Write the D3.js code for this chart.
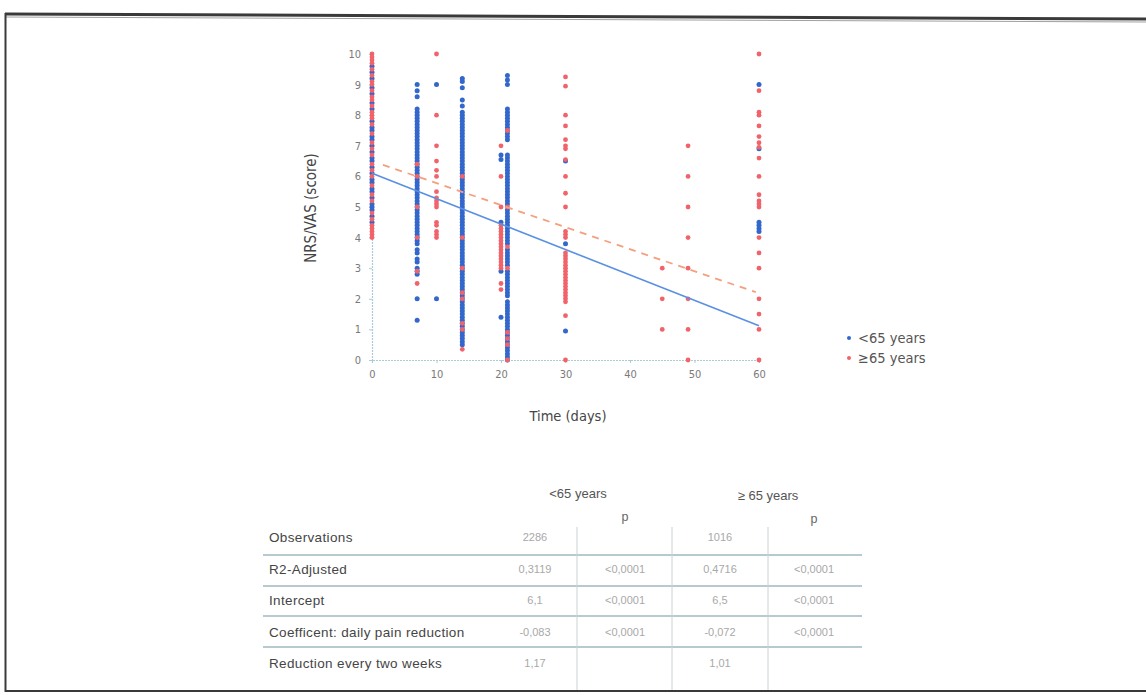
<!DOCTYPE html>
<html>
<head>
<meta charset="utf-8">
<script src="https://cdn.jsdelivr.net/npm/d3@7/dist/d3.min.js"></script>
<style>
  html, body { margin: 0; padding: 0; background: #fff; }
  svg { display: block; }
</style>
</head>
<body>
<svg id="chart" width="1146" height="695"></svg>
<script>
// Pain score (NRS/VAS) per visit day, split by age group: [day, score]
const under65Points = [
  [0,4.5],[0,4.7],[0,4.9],[0,5.0],[0,5.1],[0,5.3],[0,5.5],[0,5.6],[0,5.8],[0,5.9],[0,6.1],[0,6.3],[0,6.5],[0,6.6],
  [0,6.8],[0,7.0],[0,7.2],[0,7.3],[0,7.5],[0,7.6],[0,7.8],[0,8.2],[0,8.4],[0,8.7],[0,8.9],[0,9.2],[0,9.4],[0,9.6],
  [7,1.3],[7,2.0],[7,2.8],[7,2.9],[7,3.0],[7,3.2],[7,3.3],[7,3.5],[7,3.6],[7,3.8],[7,3.9],[7,4.0],[7,4.1],[7,4.2],
  [7,4.3],[7,4.4],[7,4.5],[7,4.6],[7,4.7],[7,4.8],[7,4.9],[7,5.0],[7,5.1],[7,5.2],[7,5.3],[7,5.4],[7,5.5],[7,5.6],
  [7,5.7],[7,5.8],[7,5.9],[7,6.0],[7,6.1],[7,6.2],[7,6.3],[7,6.4],[7,6.5],[7,6.6],[7,6.7],[7,6.8],[7,6.9],[7,7.0],
  [7,7.1],[7,7.2],[7,7.3],[7,7.4],[7,7.5],[7,7.6],[7,7.7],[7,7.8],[7,7.9],[7,8.0],[7,8.1],[7,8.2],[7,8.6],[7,8.8],[7,9.0],
  [10,2.0],[10,9.0],
  [14,0.5],[14,0.6],[14,0.7],[14,0.8],[14,0.9],[14,1.0],[14,1.1],[14,1.2],[14,1.3],[14,1.4],[14,1.5],[14,1.6],
  [14,1.7],[14,1.8],[14,1.9],[14,2.0],[14,2.1],[14,2.2],[14,2.3],[14,2.4],[14,2.5],[14,2.6],[14,2.7],[14,2.8],
  [14,2.9],[14,3.0],[14,3.1],[14,3.2],[14,3.3],[14,3.4],[14,3.5],[14,3.6],[14,3.7],[14,3.8],[14,3.9],[14,4.0],
  [14,4.1],[14,4.2],[14,4.3],[14,4.4],[14,4.5],[14,4.6],[14,4.7],[14,4.8],[14,4.9],[14,5.0],[14,5.1],[14,5.2],
  [14,5.3],[14,5.4],[14,5.5],[14,5.6],[14,5.7],[14,5.8],[14,5.9],[14,6.0],[14,6.1],[14,6.2],[14,6.3],[14,6.4],
  [14,6.5],[14,6.6],[14,6.7],[14,6.8],[14,6.9],[14,7.0],[14,7.1],[14,7.2],[14,7.3],[14,7.4],[14,7.5],[14,7.6],
  [14,7.7],[14,7.8],[14,7.9],[14,8.0],[14,8.1],[14,8.3],[14,8.5],[14,8.9],[14,9.1],[14,9.2],
  [20,1.4],[20,2.9],[20,4.5],[20,6.55],[20,6.7],
  [21,0.0],[21,0.1],[21,0.2],[21,0.3],[21,0.4],[21,0.5],[21,0.6],[21,0.7],[21,0.8],[21,0.9],[21,1.0],[21,1.1],
  [21,1.2],[21,1.3],[21,1.4],[21,1.5],[21,1.6],[21,1.7],[21,1.8],[21,1.9],[21,2.1],[21,2.2],[21,2.3],[21,2.4],
  [21,2.5],[21,2.6],[21,2.7],[21,2.8],[21,2.9],[21,3.1],[21,3.2],[21,3.3],[21,3.4],[21,3.5],[21,3.6],[21,3.8],
  [21,3.9],[21,4.0],[21,4.1],[21,4.2],[21,4.3],[21,4.4],[21,4.5],[21,4.6],[21,4.7],[21,4.8],[21,4.9],[21,5.1],
  [21,5.2],[21,5.3],[21,5.4],[21,5.5],[21,5.6],[21,5.7],[21,5.8],[21,5.9],[21,6.0],[21,6.1],[21,6.2],[21,6.3],
  [21,6.4],[21,6.5],[21,6.6],[21,6.7],[21,7.2],[21,7.3],[21,7.4],[21,7.5],[21,7.6],[21,7.7],[21,7.8],[21,7.9],
  [21,8.0],[21,8.1],[21,8.2],[21,9.0],[21,9.15],[21,9.3],
  [30,0.95],[30,3.8],[30,6.5],
  [60,4.2],[60,4.3],[60,4.4],[60,4.5],[60,6.9],[60,9.0]
];

const over65Points = [
  [0,4.0],[0,4.1],[0,4.2],[0,4.3],[0,4.4],[0,4.6],[0,4.8],[0,5.2],[0,5.4],[0,5.7],[0,6.0],[0,6.2],[0,6.4],[0,6.7],
  [0,6.9],[0,7.1],[0,7.4],[0,7.7],[0,7.9],[0,8.0],[0,8.1],[0,8.3],[0,8.5],[0,8.6],[0,8.8],[0,9.0],[0,9.1],[0,9.3],
  [0,9.5],[0,9.7],[0,9.8],[0,9.9],[0,10.0],
  [7,2.5],[7,2.9],[7,4.0],[7,5.0],[7,6.0],[7,6.4],
  [10,4.0],[10,4.1],[10,4.2],[10,4.4],[10,4.5],[10,5.0],[10,5.1],[10,5.2],[10,5.3],[10,5.5],[10,6.0],[10,6.2],
  [10,6.5],[10,7.0],[10,8.0],[10,10.0],
  [14,0.35],[14,1.0],[14,1.2],[14,2.0],[14,2.2],[14,3.0],[14,4.0],[14,6.0],
  [20,2.3],[20,2.5],[20,3.0],[20,3.1],[20,3.2],[20,3.3],[20,3.4],[20,3.5],[20,3.6],[20,3.7],[20,3.8],[20,3.9],
  [20,4.0],[20,4.1],[20,4.2],[20,4.3],[20,4.4],[20,5.0],[20,6.0],[20,7.0],
  [21,0.0],[21,0.5],[21,0.7],[21,0.9],[21,3.0],[21,3.7],[21,5.0],[21,7.5],
  [30,0.0],[30,1.45],[30,1.9],[30,2.0],[30,2.1],[30,2.2],[30,2.3],[30,2.4],[30,2.5],[30,2.6],[30,2.7],[30,2.8],
  [30,2.9],[30,3.0],[30,3.1],[30,3.2],[30,3.3],[30,3.4],[30,3.5],[30,4.0],[30,4.1],[30,4.2],[30,5.0],[30,5.45],
  [30,6.0],[30,6.55],[30,6.9],[30,7.0],[30,7.2],[30,7.65],[30,8.0],[30,8.95],[30,9.25],
  [45,1.0],[45,2.0],[45,3.0],
  [49,0],[49,1],[49,2],[49,3],[49,4],[49,5],[49,6],[49,7],
  [60,0],[60,1],[60,1.5],[60,2],[60,3],[60,3.5],[60,4],[60,5.0],[60,5.1],[60,5.2],[60,5.4],[60,6.0],[60,6.6],
  [60,6.95],[60,7.1],[60,7.3],[60,7.65],[60,8.0],[60,8.1],[60,8.8],[60,10.0]
];

// Linear regression fits (intercept, daily coefficient)
const under65Fit = { intercept: 6.1, slope: -0.083, from: 0, to: 60 };
const over65Fit = { intercept: 6.5, slope: -0.072, from: 1.7, to: 59.5 };

const xTicks = [0, 10, 20, 30, 40, 50, 60];
const yTicks = [0, 1, 2, 3, 4, 5, 6, 7, 8, 9, 10];
const legendLabels = ["<65 years", "\u226565 years"];

// Regression summary table
const tableRowLabels = ["Observations", "R2-Adjusted", "Intercept", "Coefficent: daily pain reduction", "Reduction every two weeks"];
const under65Estimates = ["2286", "0,3119", "6,1", "-0,083", "1,17"];
const under65PValues = ["", "<0,0001", "<0,0001", "<0,0001", ""];
const over65Estimates = ["1016", "0,4716", "6,5", "-0,072", "1,01"];
const over65PValues = ["", "<0,0001", "<0,0001", "<0,0001", ""];
const tableGroupHeaders = ["<65 years", "\u2265 65 years"];

const BLUE = "#3367cc";
const RED = "#f1636a";
const BLUE_LINE = "#5a90e2";
const ORANGE_LINE = "#f4a07e";
const AXIS = "#a9cdd6";
const COND = "'Liberation Sans Narrow', 'DejaVu Sans Condensed', 'Roboto Condensed', sans-serif";

const svg = d3.select("#chart");

// page frame
svg.append("line").attr("x1", 5).attr("y1", 14).attr("x2", 1146).attr("y2", 19)
  .attr("stroke", "#3a3a3a").attr("stroke-width", 3);
svg.append("line").attr("x1", 5).attr("y1", 17).attr("x2", 1146).attr("y2", 22)
  .attr("stroke", "#a0a0a0").attr("stroke-width", 1);
svg.append("line").attr("x1", 5.5).attr("y1", 13).attr("x2", 5.5).attr("y2", 692)
  .attr("stroke", "#3a3a3a").attr("stroke-width", 2);
svg.append("line").attr("x1", 5).attr("y1", 691).attr("x2", 1146).attr("y2", 691)
  .attr("stroke", "#3a3a3a").attr("stroke-width", 2);

const x = d3.scaleLinear().domain([0, 60]).range([372, 759]);
const y = d3.scaleLinear().domain([0, 10]).range([360, 54]);

// axes
const xAxis = svg.append("g").attr("transform", `translate(0,${y(0)})`)
  .call(d3.axisBottom(x).tickValues(xTicks).tickSize(3).tickPadding(7).tickFormat(d3.format("d")));
const yAxis = svg.append("g").attr("transform", `translate(${x(0)},0)`)
  .call(d3.axisLeft(y).tickValues(yTicks).tickSize(3).tickPadding(8).tickFormat(d3.format("d")));
[xAxis, yAxis].forEach(g => {
  g.select(".domain").attr("stroke", AXIS).attr("stroke-width", 1.2).attr("stroke-dasharray", "2,1");
  g.selectAll(".tick line").attr("stroke", AXIS);
  g.selectAll(".tick text").attr("fill", "#7a7a7a").style("font-family", COND).style("font-size", "11px");
});

// scatter points: younger group first, older group drawn over it
svg.append("g").selectAll("circle").data(under65Points).join("circle")
  .attr("cx", d => x(d[0])).attr("cy", d => y(d[1])).attr("r", 2.5).attr("fill", BLUE);
svg.append("g").selectAll("circle").data(over65Points).join("circle")
  .attr("cx", d => x(d[0])).attr("cy", d => y(d[1])).attr("r", 2.4).attr("fill", RED);

// regression lines
const fitLine = f => [[f.from, f.intercept + f.slope * f.from], [f.to, f.intercept + f.slope * f.to]];
const lineGen = d3.line().x(d => x(d[0])).y(d => y(d[1]));
svg.append("path").attr("d", lineGen(fitLine(under65Fit)))
  .attr("stroke", BLUE_LINE).attr("stroke-width", 1.6).attr("fill", "none");
svg.append("path").attr("d", lineGen(fitLine(over65Fit)))
  .attr("stroke", ORANGE_LINE).attr("stroke-width", 1.8).attr("fill", "none")
  .attr("stroke-dasharray", "7,6");

// axis titles
svg.append("text").attr("transform", "translate(316,208) rotate(-90)")
  .attr("text-anchor", "middle").attr("fill", "#454545")
  .style("font-family", COND).style("font-size", "15px").text("NRS/VAS (score)");
svg.append("text").attr("x", 568).attr("y", 421).attr("text-anchor", "middle").attr("fill", "#454545")
  .style("font-family", COND).style("font-size", "14.5px").text("Time (days)");

// legend
const legend = svg.append("g");
legendLabels.forEach((lab, i) => {
  legend.append("circle").attr("cx", 849).attr("cy", 338 + i * 20).attr("r", 2)
    .attr("fill", i === 0 ? BLUE : RED);
  legend.append("text").attr("x", 858).attr("y", 343 + i * 20).attr("fill", "#555")
    .style("font-family", COND).style("font-size", "14.5px").text(lab);
});

// summary table
const tbl = svg.append("g").style("font-family", "'Liberation Sans', Arial, sans-serif");
const rowY = [537, 569, 600, 632, 663];
const sepY = [555, 586, 616, 647];
const colX = { est1: 535, p1: 625, est2: 720, p2: 814 };

tbl.append("text").attr("x", 578).attr("y", 498).attr("text-anchor", "middle")
  .attr("fill", "#555").style("font-size", "13px").text(tableGroupHeaders[0]);
tbl.append("text").attr("x", 768).attr("y", 500).attr("text-anchor", "middle")
  .attr("fill", "#555").style("font-size", "13px").text(tableGroupHeaders[1]);
[[colX.p1, 521], [colX.p2, 523]].forEach(([px, py]) => {
  tbl.append("text").attr("x", px).attr("y", py).attr("text-anchor", "middle")
    .attr("fill", "#666").style("font-size", "12.5px").text("p");
});

sepY.forEach(sy => {
  tbl.append("line").attr("x1", 263).attr("x2", 862).attr("y1", sy).attr("y2", sy)
    .attr("stroke", "#9fb8c0").attr("stroke-width", 1.3);
});
[577, 672, 768].forEach(vx => {
  tbl.append("line").attr("x1", vx).attr("x2", vx).attr("y1", 527).attr("y2", 690)
    .attr("stroke", "#c9d2d4").attr("stroke-width", 1);
});

tableRowLabels.forEach((lab, i) => {
  tbl.append("text").attr("x", 269).attr("y", rowY[i] + 5).attr("fill", "#454545")
    .style("font-size", "13.5px").style("letter-spacing", "0.35px").text(lab);
  const cells = [
    [colX.est1, under65Estimates[i]], [colX.p1, under65PValues[i]],
    [colX.est2, over65Estimates[i]], [colX.p2, over65PValues[i]]
  ];
  cells.forEach(([cx, v]) => {
    if (!v) return;
    tbl.append("text").attr("x", cx).attr("y", rowY[i] + 4).attr("text-anchor", "middle")
      .attr("fill", "#a8a8a8").style("font-size", "11px").text(v);
  });
});
</script>
</body>
</html>
